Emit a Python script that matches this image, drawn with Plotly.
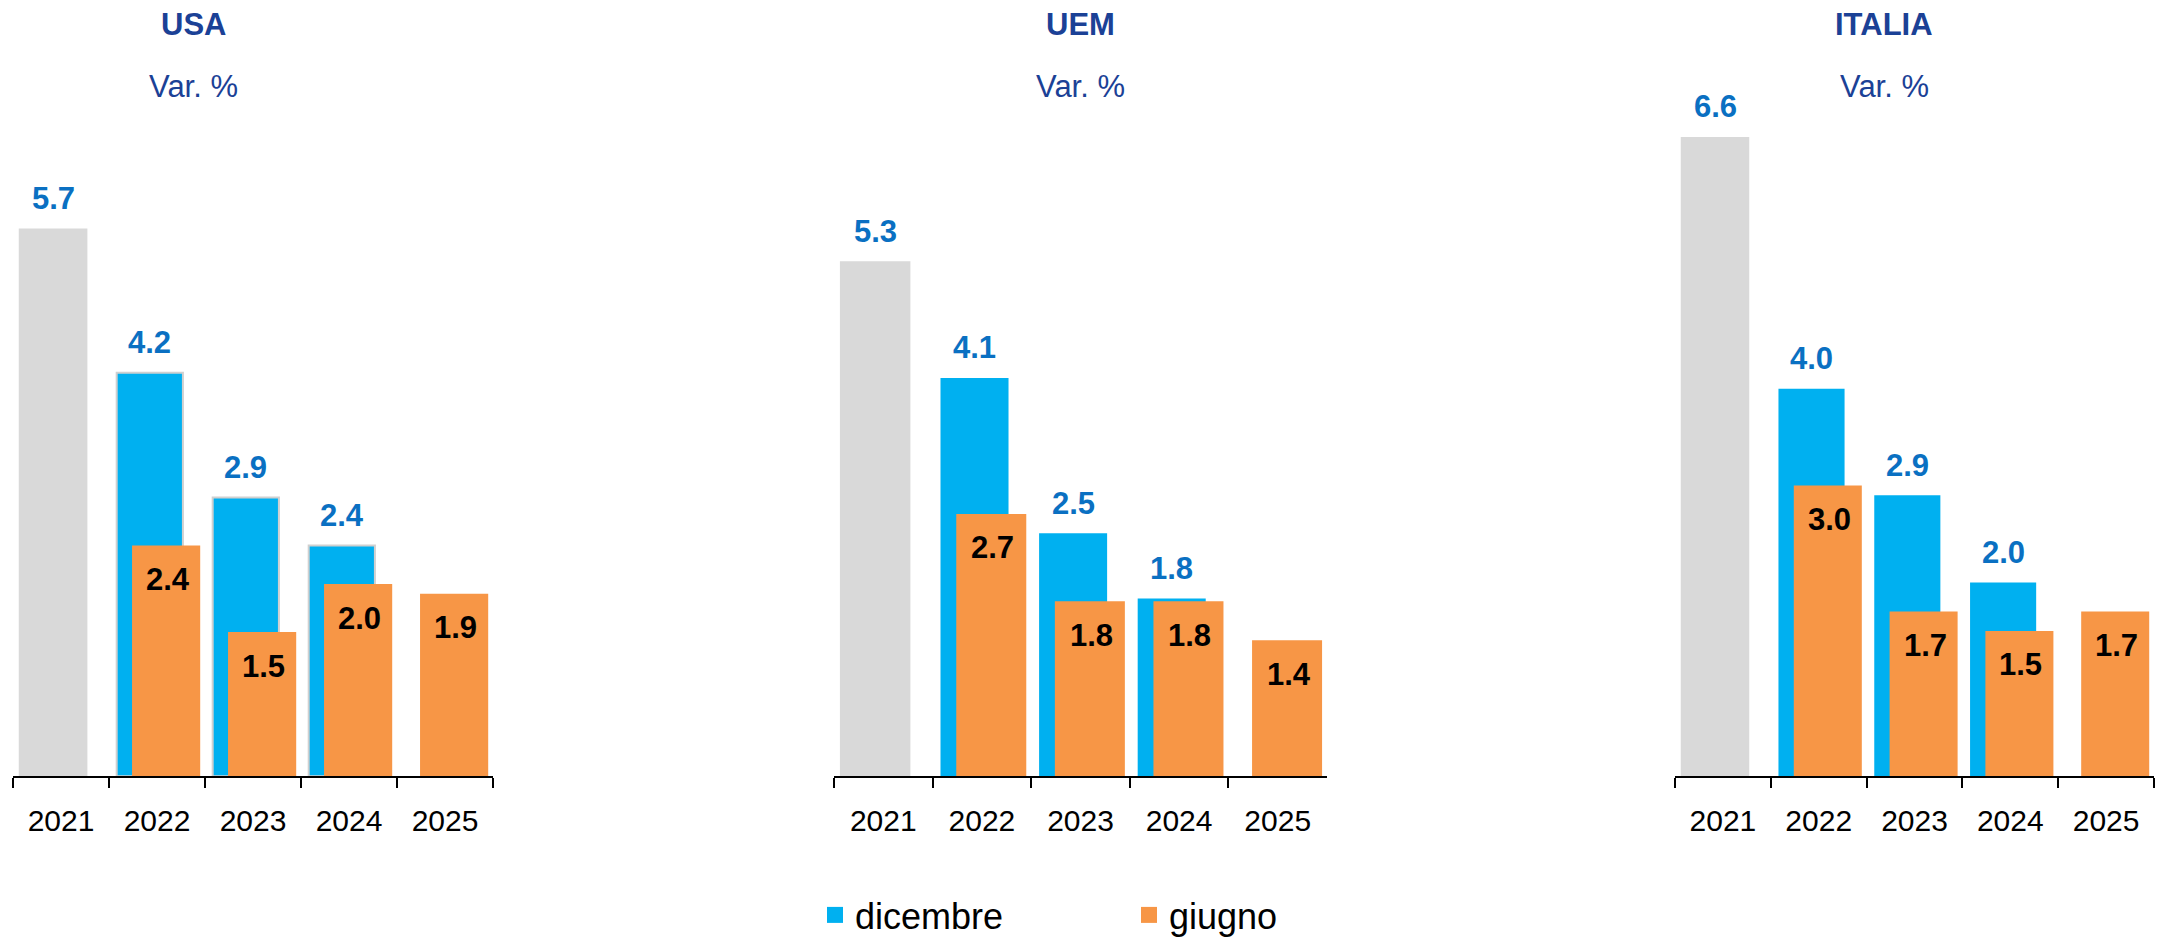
import plotly.graph_objects as go

# ---------------- data ----------------
years = ["2021", "2022", "2023", "2024", "2025"]
years_2021 = ["2021"]
years_dicembre = ["2022", "2023", "2024"]
years_giugno = ["2022", "2023", "2024", "2025"]

panel_titles = ["USA", "UEM", "ITALIA"]
subtitle = "Var. %"

usa_2021 = [5.7]
usa_dicembre = [4.2, 2.9, 2.4]
usa_giugno = [2.4, 1.5, 2.0, 1.9]

uem_2021 = [5.3]
uem_dicembre = [4.1, 2.5, 1.83]
uem_giugno = [2.7, 1.8, 1.8, 1.4]

ita_2021 = [6.6]
ita_dicembre = [4.0, 2.9, 2.0]
ita_giugno = [3.0, 1.7, 1.5, 1.7]

series_names = ["dicembre", "giugno"]

# ---------------- style ----------------
W, H = 2167, 945
FONT = "Liberation Sans, Arial, sans-serif"
C_GRAY = "#D9D9D9"
C_BLUE = "#00B0F0"
C_ORANGE = "#F79646"
C_LABEL_BLUE = "#0A70C2"
C_TITLE = "#1B4196"

x_domains = [(13 / W, 493 / W), (834 / W, 1327 / W), (1675 / W, 2154 / W)]
y_domain = (1 - 787 / H, 1 - 100 / H)
y_max = [7.053, 6.975, 6.996]
title_x_px = [194, 1080, 1884]

GRAY_OFF, GRAY_W = -0.44, 0.715
BLUE_OFF, BLUE_W = -0.42, 0.69
OR_OFF, OR_W = -0.26, 0.71

fig = go.Figure()

data = [
    (usa_2021, usa_dicembre, usa_giugno),
    (uem_2021, uem_dicembre, uem_giugno),
    (ita_2021, ita_dicembre, ita_giugno),
]

annotations = []
for i, (v21, vdic, vgiu) in enumerate(data):
    sfx = "" if i == 0 else str(i + 1)
    xa, ya = "x" + sfx, "y" + sfx
    blue_line = dict(color="#D0D0D0", width=2) if i == 0 else dict(width=0)
    fig.add_trace(go.Bar(x=years_2021, y=v21, xaxis=xa, yaxis=ya,
                         marker=dict(color=C_GRAY, line=dict(width=0)),
                         offset=GRAY_OFF, width=GRAY_W, showlegend=False,
                         hoverinfo="x+y"))
    fig.add_trace(go.Bar(x=years_dicembre, y=vdic, xaxis=xa, yaxis=ya,
                         name=series_names[0],
                         marker=dict(color=C_BLUE, line=blue_line),
                         offset=BLUE_OFF, width=BLUE_W, showlegend=False))
    fig.add_trace(go.Bar(x=years_giugno, y=vgiu, xaxis=xa, yaxis=ya,
                         name=series_names[1],
                         marker=dict(color=C_ORANGE, line=dict(width=0)),
                         offset=OR_OFF, width=OR_W, showlegend=False))

    # value labels
    for yr, v in zip(years_2021, v21):
        annotations.append(dict(x=years.index(yr) + GRAY_OFF + GRAY_W / 2, y=v,
                                xref=xa, yref=ya, text=f"{v:.1f}", showarrow=False,
                                yanchor="middle", yshift=30,
                                font=dict(family=FONT, size=31, color=C_LABEL_BLUE, weight="bold")))
    for yr, v in zip(years_dicembre, vdic):
        annotations.append(dict(x=years.index(yr) + BLUE_OFF + BLUE_W / 2, y=v,
                                xref=xa, yref=ya, text=f"{v:.1f}", showarrow=False,
                                yanchor="middle", yshift=30,
                                font=dict(family=FONT, size=31, color=C_LABEL_BLUE, weight="bold")))
    for yr, v in zip(years_giugno, vgiu):
        annotations.append(dict(x=years.index(yr) + 0.11, y=v,
                                xref=xa, yref=ya, text=f"{v:.1f}", showarrow=False,
                                yanchor="middle", yshift=-34,
                                font=dict(family=FONT, size=31, color="#000000", weight="bold")))

    # titles
    annotations.append(dict(x=title_x_px[i] / W, y=1 - 25 / H, xref="paper", yref="paper",
                            text=f"<b>{panel_titles[i]}</b>", showarrow=False,
                            xanchor="center", yanchor="middle",
                            font=dict(family=FONT, size=31, color=C_TITLE)))
    annotations.append(dict(x=title_x_px[i] / W, y=1 - 88 / H, xref="paper", yref="paper",
                            text=subtitle, showarrow=False,
                            xanchor="center", yanchor="middle",
                            font=dict(family=FONT, size=31, color=C_TITLE)))

    xaxis_cfg = dict(domain=list(x_domains[i]), anchor=ya, type="category",
                     categoryorder="array", categoryarray=years, range=[-0.5, 4.5],
                     tickson="boundaries", ticks="outside", ticklen=10, tickwidth=2,
                     tickcolor="#000000", showline=True, linecolor="#000000", linewidth=2,
                     showgrid=False, zeroline=False, ticklabelstandoff=17,
                     tickfont=dict(family=FONT, size=30, color="#000000"))
    yaxis_cfg = dict(domain=list(y_domain), anchor=xa, range=[0, y_max[i]],
                     visible=False, showgrid=False, zeroline=False)
    fig.update_layout(**{"xaxis" + sfx: xaxis_cfg, "yaxis" + sfx: yaxis_cfg})

# legend entries (square markers)
fig.add_trace(go.Scatter(x=[None], y=[None], mode="markers", name=series_names[0],
                         marker=dict(symbol="square", size=20, color=C_BLUE),
                         legend="legend", showlegend=True))
fig.add_trace(go.Scatter(x=[None], y=[None], mode="markers", name=series_names[1],
                         marker=dict(symbol="square", size=20, color=C_ORANGE),
                         legend="legend2", showlegend=True))

legend_common = dict(orientation="h", yanchor="middle", xanchor="left",
                     bgcolor="rgba(0,0,0,0)", borderwidth=0,
                     font=dict(family=FONT, size=36, color="#000000"))
fig.update_layout(
    legend=dict(x=(834 - 19) / W, y=1 - 928 / H, **legend_common),
    legend2=dict(x=(1148 - 19) / W, y=1 - 928 / H, **legend_common),
)

fig.update_layout(
    width=W, height=H,
    margin=dict(l=0, r=0, t=0, b=0),
    paper_bgcolor="white", plot_bgcolor="white",
    barmode="overlay",
    annotations=annotations,
    font=dict(family=FONT),
)

fig.write_html("out.html", config={"displayModeBar": False},
               post_script="document.body.style.margin='0px';"
                           "document.body.style.overflow='hidden';"
                           "window.scrollTo(0,0);")
